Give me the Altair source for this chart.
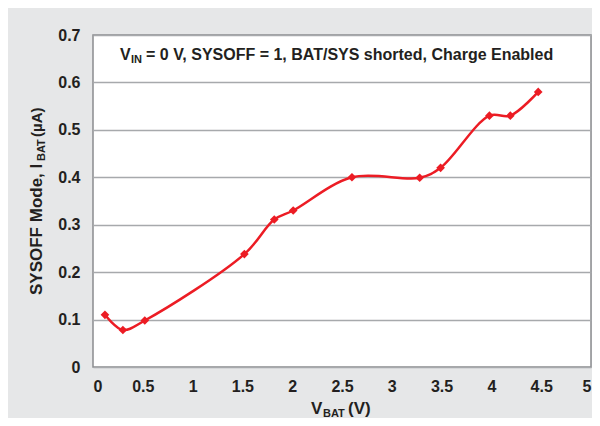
import altair as alt
import pandas as pd

# Data
vbat = [0.12, 0.30, 0.52, 1.52, 1.82, 2.01, 2.60, 3.28, 3.49, 3.98, 4.19, 4.47]
ibat = [0.110, 0.078, 0.098, 0.238, 0.311, 0.330, 0.400, 0.399, 0.420, 0.530, 0.530, 0.580]

x_ticks = [0, 0.5, 1, 1.5, 2, 2.5, 3, 3.5, 4, 4.5, 5]
y_ticks = [0, 0.1, 0.2, 0.3, 0.4, 0.5, 0.6, 0.7]

FONT = "Liberation Sans"
RED = "#ec1c24"
TXT = "#231f20"

df = pd.DataFrame({"vbat": vbat, "ibat": ibat})

W, H = 498, 332

xs = alt.Scale(domain=[0, 5], nice=False)
ys = alt.Scale(domain=[0, 0.7], nice=False)

base = alt.Chart(df)

line = base.mark_line(color=RED, strokeWidth=2.5, interpolate="catmull-rom").encode(
    x=alt.X("vbat:Q", scale=xs, title=None,
            axis=alt.Axis(values=x_ticks, format="~g", grid=False, domain=False, ticks=False,
                          labelFont=FONT, labelFontWeight="bold", labelFontSize=16,
                          labelColor=TXT, labelPadding=11)),
    y=alt.Y("ibat:Q", scale=ys, title=None,
            axis=alt.Axis(values=y_ticks, format="~g", grid=True, gridColor="#a7a9ac",
                          gridWidth=1.5, domain=False, ticks=False,
                          labelFont=FONT, labelFontWeight="bold", labelFontSize=16,
                          labelColor=TXT, labelPadding=13)),
)

pts = base.mark_point(shape="diamond", filled=True, color=RED, size=75, opacity=1).encode(
    x=alt.X("vbat:Q", scale=xs),
    y=alt.Y("ibat:Q", scale=ys),
)


def tmark(text, x, y, size, angle=0):
    return alt.Chart(pd.DataFrame({"t": [text]})).mark_text(
        font=FONT, fontWeight="bold", fontSize=size, color=TXT, align="left",
        baseline="alphabetic", angle=angle,
    ).encode(text="t:N", x=alt.value(x), y=alt.value(y))


texts = [
    tmark("V", 218, 379, 17),
    tmark("BAT", 230, 382, 11),
    tmark("(V)", 255, 379, 17),
    tmark("V", 27, 25, 16),
    tmark("IN", 38, 28, 11),
    tmark("= 0 V, SYSOFF = 1, BAT/SYS shorted, Charge Enabled", 53, 25, 16),
    tmark("SYSOFF Mode, I", -51, 260, 17, 270),
    tmark("BAT", -48, 126, 11, 270),
    tmark("(\u00b5A)", -51, 102, 15, 270),
]

chart = alt.layer(line, pts, *texts).properties(
    width=W, height=H,
    background="#e6e7e8",
    padding={"left": 85, "top": 27, "right": 1, "bottom": 51},
    autosize=alt.AutoSizeParams(type="none"),
).configure_view(
    fill="white", stroke="#8a8c8e", strokeWidth=1.5,
)

chart.save("out.html", embed_options={"renderer": "svg", "actions": False})
